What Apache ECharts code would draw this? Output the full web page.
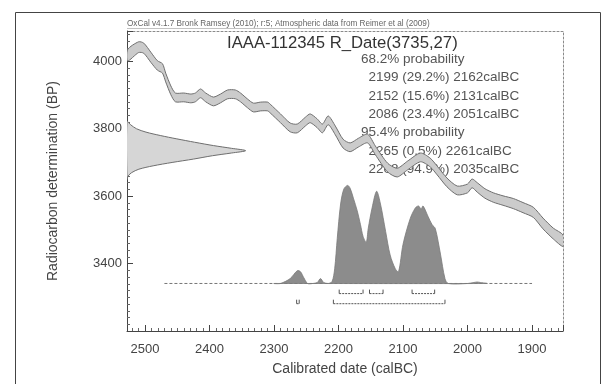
<!DOCTYPE html>
<html>
<head>
<meta charset="utf-8">
<title>IAAA-112345 R_Date(3735,27)</title>
<script src="https://cdn.jsdelivr.net/npm/echarts@6/dist/echarts.min.js"></script>
<style>
html, body { margin: 0; padding: 0; background: #fff; }
#chart { width: 606px; height: 384px; }
</style>
</head>
<body>
<div id="chart"></div>
<script>
// calibration curve: centre and half width (BP)
const curveYears = [2527, 2510, 2502, 2491, 2481, 2473, 2468, 2460, 2453, 2440, 2429, 2422, 2414, 2406, 2394, 2383, 2372, 2360, 2352, 2341,
  2332, 2321, 2310, 2306, 2290, 2275, 2264, 2251, 2244, 2233, 2225, 2216, 2205, 2193, 2182, 2169, 2155, 2143, 2124, 2109,
  2093, 2073, 2058, 2047, 2032, 2016, 2000, 1993, 1985, 1973, 1960, 1945, 1929, 1914, 1898, 1883, 1867, 1852];
const curveBP = [4018, 4042, 4039, 4012, 3988, 3979, 3952, 3914, 3893, 3893, 3890, 3893, 3905, 3893, 3881, 3890, 3902, 3902, 3893, 3875,
  3863, 3866, 3866, 3860, 3831, 3804, 3801, 3822, 3831, 3816, 3801, 3825, 3795, 3756, 3745, 3759, 3771, 3736, 3685, 3670,
  3691, 3715, 3700, 3676, 3641, 3617, 3623, 3638, 3626, 3608, 3596, 3587, 3578, 3566, 3552, 3519, 3489, 3468];
const curveHalf = [17, 16, 15, 15, 14, 14, 13, 13, 13, 13, 13, 13, 13, 13, 13, 13, 13, 13, 13, 13,
  13, 13, 13, 13, 13, 13, 13, 13, 13, 13, 13, 13, 13, 13, 13, 13, 13, 13, 13, 13,
  13, 13, 13, 13, 13, 13, 13, 13, 14, 14, 14, 14, 15, 15, 15, 16, 16, 17];

// radiocarbon date, relative density against BP
const dateBP = [3822, 3812, 3800, 3790, 3780, 3770, 3760, 3750, 3742, 3735, 3728, 3720, 3710, 3700, 3690, 3680, 3670, 3660, 3650];
const dateP = [0, 0.03, 0.08, 0.16, 0.28, 0.42, 0.57, 0.73, 0.88, 1, 0.88, 0.72, 0.56, 0.38, 0.22, 0.1, 0.04, 0.01, 0];

// calibrated distribution, relative to its highest point
const calYears = [2300, 2290, 2275, 2264, 2259, 2254, 2248, 2240, 2233, 2228, 2223, 2216, 2210, 2206, 2202, 2197, 2192, 2186, 2182, 2177,
  2171, 2166, 2162, 2157, 2154, 2148, 2141, 2135, 2127, 2120, 2112, 2107, 2100, 2089, 2081, 2076, 2072, 2069, 2061, 2055,
  2050, 2042, 2035, 2030, 2000, 1990, 1985, 1980, 1970];
const calP = [0, 0, 0.05, 0.13, 0.12, 0.06, 0, 0, 0.01, 0.05, 0.01, 0, 0.02, 0.15, 0.46, 0.8, 0.96, 1, 0.97, 0.87,
  0.74, 0.6, 0.48, 0.42, 0.56, 0.77, 0.94, 0.81, 0.53, 0.29, 0.15, 0.12, 0.4, 0.66, 0.77, 0.79, 0.76, 0.79, 0.68, 0.6,
  0.56, 0.3, 0.05, 0, 0, 0.01, 0.015, 0.01, 0];

// highest probability density ranges
const ranges68 = [[2199, 2162], [2152, 2131], [2086, 2051]];
const ranges95 = [[2265, 2261], [2208, 2035]];

const xTickLabels = [2500, 2400, 2300, 2200, 2100, 2000, 1900];
const yTickLabels = [3400, 3600, 3800, 4000];

const summary = [
  '68.2% probability',
  '  2199 (29.2%) 2162calBC',
  '  2152 (15.6%) 2131calBC',
  '  2086 (23.4%) 2051calBC',
  '95.4% probability',
  '  2265 (0.5%) 2261calBC',
  '  2208 (94.9%) 2035calBC'
];

const X_MIN = 1852, X_MAX = 2528, Y_MIN = 3200, Y_MAX = 4090;
const BASE = 3341, CAL_H = 291, LVL68 = 3311, LVL95 = 3281, DATE_W = 184;
const BASE_FROM = 2470, BASE_TO = 1900;
const FONT = '"Liberation Sans", Arial, sans-serif';

function bandItem(params, api) {
  const top = [], bottom = [];
  for (let i = 0; i < curveYears.length; i++) {
    top.push(api.coord([curveYears[i], curveBP[i] + curveHalf[i]]));
    bottom.unshift(api.coord([curveYears[i], curveBP[i] - curveHalf[i]]));
  }
  return {
    type: 'polygon',
    shape: { points: top.concat(bottom), smooth: 0.25 },
    style: { fill: '#cbcbcb', stroke: '#6e6e6e', lineWidth: 1 }
  };
}

function dateItem(params, api) {
  const pts = dateBP.map(function (bp, i) { return api.coord([X_MAX - dateP[i] * DATE_W, bp]); });
  return {
    type: 'polygon',
    shape: { points: pts, smooth: 0.3 },
    style: { fill: '#d6d6d6', stroke: '#6e6e6e', lineWidth: 1 }
  };
}

function calItem(params, api) {
  const pts = calYears.map(function (y, i) { return api.coord([y, BASE + calP[i] * CAL_H]); });
  return {
    type: 'polygon',
    shape: { points: pts, smooth: 0.3 },
    style: { fill: '#8c8c8c', stroke: '#7a7a7a', lineWidth: 0.8 }
  };
}

function bracketItem(level) {
  return function (params, api) {
    const a = api.coord([api.value(0), level]);
    const b = api.coord([api.value(1), level]);
    return {
      type: 'group',
      children: [
        { type: 'line', shape: { x1: a[0], y1: a[1], x2: b[0], y2: b[1] }, style: { stroke: '#555', lineWidth: 1, lineDash: [2, 1] } },
        { type: 'line', shape: { x1: a[0], y1: a[1], x2: a[0], y2: a[1] - 4 }, style: { stroke: '#555', lineWidth: 1 } },
        { type: 'line', shape: { x1: b[0], y1: b[1], x2: b[0], y2: b[1] - 4 }, style: { stroke: '#555', lineWidth: 1 } }
      ]
    };
  };
}

const axisGray = '#444';
const chart = echarts.init(document.getElementById('chart'), null, { renderer: 'canvas' });

const texts = summary.map(function (s, i) {
  return {
    type: 'text', left: 361, top: 52 + i * 18.4,
    style: { text: s, font: '13.5px ' + FONT, fill: '#555' }
  };
});

chart.setOption({
  animation: false,
  textStyle: { fontFamily: FONT },
  grid: { left: 127, right: 43, top: 31, bottom: 53 },
  xAxis: [{
    type: 'value', inverse: true, min: X_MIN, max: X_MAX, minInterval: 100, maxInterval: 100,
    name: 'Calibrated date (calBC)', nameLocation: 'middle', nameGap: 31,
    nameTextStyle: { fontSize: 14, color: axisGray },
    axisLine: { lineStyle: { color: axisGray } },
    axisTick: { inside: true, length: 6, lineStyle: { color: axisGray } },
    minorTick: { show: true, splitNumber: 10, length: 3, lineStyle: { color: '#666' } },
    axisLabel: { fontSize: 13, color: axisGray, margin: 12, formatter: function (v) { return xTickLabels.indexOf(v) >= 0 ? String(v) : ''; } },
    splitLine: { show: false }
  }, {
    type: 'value', position: 'top', inverse: true, min: X_MIN, max: X_MAX,
    axisLine: { lineStyle: { color: '#8a8a8a', type: [2, 2] } },
    axisTick: { show: false }, axisLabel: { show: false }, splitLine: { show: false }
  }],
  yAxis: [{
    type: 'value', min: Y_MIN, max: Y_MAX, interval: 200,
    name: 'Radiocarbon determination (BP)', nameLocation: 'middle', nameGap: 67,
    nameTextStyle: { fontSize: 14, color: axisGray },
    axisLine: { show: true, lineStyle: { color: axisGray } },
    axisTick: { inside: true, length: 6, lineStyle: { color: axisGray } },
    minorTick: { show: true, splitNumber: 10, length: 3, lineStyle: { color: '#666' } },
    axisLabel: { fontSize: 13, color: axisGray, margin: 5, formatter: function (v) { return yTickLabels.indexOf(v) >= 0 ? String(v) : ''; } },
    splitLine: { show: false }
  }, {
    type: 'value', position: 'right', min: Y_MIN, max: Y_MAX,
    axisLine: { show: true, lineStyle: { color: '#8a8a8a', type: [2, 2] } },
    axisTick: { show: false }, axisLabel: { show: false }, splitLine: { show: false }
  }],
  graphic: [
    { type: 'rect', left: 13, top: 10, shape: { width: 585, height: 390 }, style: { fill: 'none', stroke: '#444', lineWidth: 1 } },
    { type: 'text', left: 127, top: 20, style: { text: 'OxCal v4.1.7 Bronk Ramsey (2010); r:5; Atmospheric data from Reimer et al (2009)', font: '8.2px ' + FONT, fill: '#666' } },
    { type: 'line', shape: { x1: 127, y1: 28.5, x2: 428, y2: 28.5 }, style: { stroke: '#999', lineWidth: 0.6 } },
    { type: 'text', left: 227, top: 35, style: { text: 'IAAA-112345 R_Date(3735,27)', font: '16.7px ' + FONT, fill: '#333' } }
  ].concat(texts),
  series: [
    { type: 'custom', renderItem: bandItem, data: [[curveYears[0], curveBP[0]]], clip: true, silent: true, z: 2 },
    { type: 'custom', renderItem: dateItem, data: [[X_MAX, dateBP[0]]], clip: true, silent: true, z: 2 },
    { type: 'custom', renderItem: calItem, data: [[calYears[0], BASE]], clip: true, silent: true, z: 3 },
    {
      type: 'line', data: [[BASE_FROM, BASE], [BASE_TO, BASE]], symbol: 'none', silent: true, z: 1,
      lineStyle: { color: '#777', width: 1, type: [3, 2] }
    },
    { type: 'custom', renderItem: bracketItem(LVL68), data: ranges68, silent: true, z: 3 },
    { type: 'custom', renderItem: bracketItem(LVL95), data: ranges95, silent: true, z: 3 }
  ]
});
</script>
</body>
</html>
